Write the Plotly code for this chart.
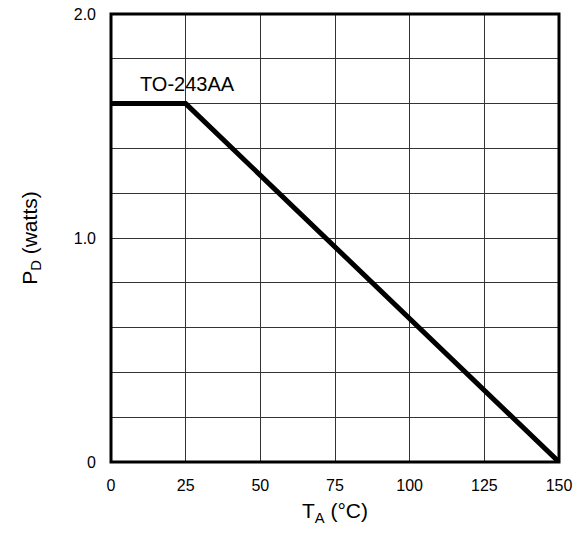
import plotly.graph_objects as go

# Power derating curve
temp_c = [0, 25, 150]
power_w = [1.6, 1.6, 0.0]

x_ticks = [0, 25, 50, 75, 100, 125, 150]
y_ticks = [0, 1.0, 2.0]
y_ticktext = ["0", "1.0", "2.0"]
y_minor = [0.2, 0.4, 0.6, 0.8, 1.2, 1.4, 1.6, 1.8]

font = "Liberation Sans, Arial, Helvetica, sans-serif"

fig = go.Figure()
fig.add_trace(go.Scatter(
    x=temp_c, y=power_w, mode="lines",
    line=dict(color="black", width=5),
    hoverinfo="skip", showlegend=False,
))

fig.add_annotation(
    x=0, y=1.6, xref="x", yref="y", text="TO-243AA",
    showarrow=False, xanchor="left", yanchor="bottom",
    xshift=27, yshift=7,
    font=dict(family=font, size=20, color="black"),
)

# heavy frame around the plotting area
fig.add_shape(
    type="rect", xref="paper", yref="paper", x0=0, y0=0, x1=1, y1=1,
    line=dict(color="black", width=3), layer="above",
)

fig.update_layout(
    width=585, height=536,
    margin=dict(l=111, r=26, t=14, b=74),
    paper_bgcolor="white", plot_bgcolor="white",
    font=dict(family=font, color="black"),
)
fig.update_xaxes(
    range=[0, 150], tickvals=x_ticks, automargin=False,
    showgrid=True, gridcolor="#333", gridwidth=1,
    showline=False,
    ticks="", ticklabelstandoff=12,
    tickfont=dict(size=16),
    title=dict(text="T<sub>A</sub> (°C)", font=dict(size=21), standoff=10),
    zeroline=False,
)
fig.update_yaxes(
    range=[0, 2.0], tickvals=y_ticks, ticktext=y_ticktext, automargin=False,
    showgrid=True, gridcolor="#333", gridwidth=1,
    minor=dict(tickvals=y_minor, showgrid=True, gridcolor="#333", gridwidth=1, ticks=""),
    showline=False,
    ticks="", ticklabelstandoff=14,
    tickfont=dict(size=16),
    title=dict(text="P<sub>D</sub> (watts)", font=dict(size=21), standoff=30),
    zeroline=False,
)

fig.write_html("out.html")
